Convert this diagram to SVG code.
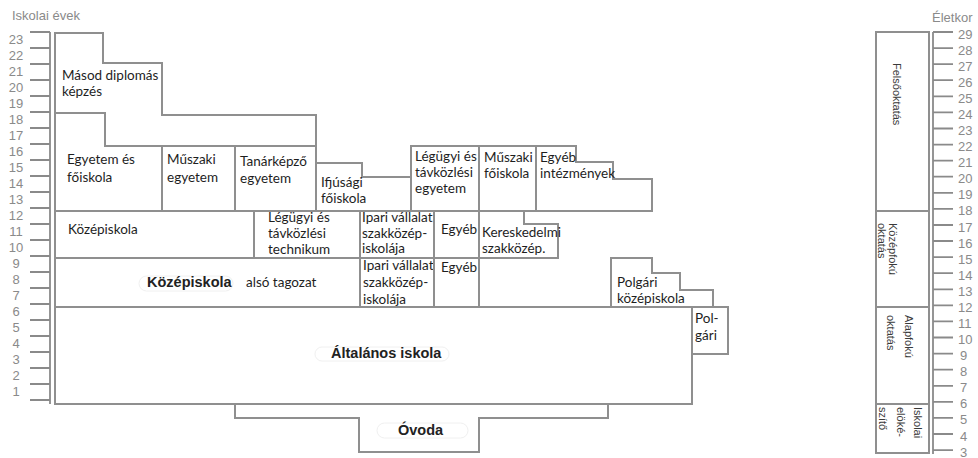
<svg xmlns="http://www.w3.org/2000/svg" width="978" height="458" viewBox="0 0 978 458">
<style>
.b{fill:#fff;stroke:#8f8f8f;stroke-width:2;stroke-linejoin:miter}
.t{font-family:Lato,"Liberation Sans",sans-serif;font-size:13.5px;fill:#1e1e1e}
.bd{font-family:"Liberation Sans",Arial,sans-serif;font-weight:bold;font-size:14.5px;fill:#222}
.r{font-family:"Liberation Sans",Arial,sans-serif;font-size:11px;fill:#3a3a3a}
.n{font-family:"Liberation Sans",Arial,sans-serif;font-size:13px;fill:#8a8a8a}
.tk{stroke:#8a8a8a;stroke-width:1.8}
.pill{fill:none;stroke:#f0f0f0;stroke-width:1}
</style>
<rect width="978" height="458" fill="#fff"/>

<g id="left-scale">
<text class="n" x="12" y="20">Iskolai évek</text>
<path class="tk" fill="none" d="M50,32V404 M30,32H50 M30,48H50 M30,64H50 M30,80H50 M30,96H50 M30,112H50 M30,128H50 M30,144H50 M30,160H50 M30,176H50 M30,192H50 M30,208H50 M30,224H50 M30,240H50 M30,256H50 M30,272H50 M30,288H50 M30,304H50 M30,320H50 M30,336H50 M30,352H50 M30,368H50 M30,384H50 M30,400H50"/>
<g class="n" text-anchor="middle">
<text x="16" y="43.5">23</text><text x="16" y="59.5">22</text><text x="16" y="75.5">21</text><text x="16" y="91.5">20</text><text x="16" y="107.5">19</text><text x="16" y="123.5">18</text><text x="16" y="139.5">17</text><text x="16" y="155.5">16</text><text x="16" y="171.5">15</text><text x="16" y="187.5">14</text><text x="16" y="203.5">13</text><text x="16" y="219.5">12</text><text x="16" y="235.5">11</text><text x="16" y="251.5">10</text><text x="16" y="267.5">9</text><text x="16" y="283.5">8</text><text x="16" y="299.5">7</text><text x="16" y="315.5">6</text><text x="16" y="331.5">5</text><text x="16" y="347.5">4</text><text x="16" y="363.5">3</text><text x="16" y="379.5">2</text><text x="16" y="395.5">1</text>
</g>
</g>

<g id="masod-diplomas">
<path class="b" d="M55,33H103V63H162V115H316V146H105V113H55Z"/>
<text class="t" x="62" y="80">Másod diplomás</text>
<text class="t" x="62" y="96">képzés</text>
</g>
<g id="egyetem-foiskola">
<path class="b" d="M55,113H105V146H162V211H55Z"/>
<text class="t" x="67" y="164">Egyetem és</text>
<text class="t" x="67" y="182">főiskola</text>
</g>
<g id="muszaki-egyetem">
<path class="b" d="M162,146H235V211H162Z"/>
<text class="t" x="167" y="164">Műszaki</text>
<text class="t" x="167" y="182">egyetem</text>
</g>
<g id="tanarkepzo-egyetem">
<path class="b" d="M235,146H316V211H235Z"/>
<text class="t" x="240" y="166">Tanárképző</text>
<text class="t" x="240" y="183">egyetem</text>
</g>
<g id="ifjusagi-foiskola">
<path class="b" d="M316,163H362V177H411V211H316Z"/>
<text class="t" x="321" y="187">Ifjúsági</text>
<text class="t" x="321" y="203">főiskola</text>
</g>
<g id="legugyi-egyetem">
<path class="b" d="M411,146H479V211H411Z"/>
<text class="t" x="415" y="161">Légügyi és</text>
<text class="t" x="415" y="177">távközlési</text>
<text class="t" x="415" y="193">egyetem</text>
</g>
<g id="muszaki-foiskola">
<path class="b" d="M479,146H536V211H479Z"/>
<text class="t" x="484" y="162">Műszaki</text>
<text class="t" x="484" y="178">főiskola</text>
</g>
<g id="egyeb-intezmenyek">
<path class="b" d="M536,146H576V162H613V179H652V211H536Z"/>
<text class="t" x="540" y="162">Egyéb</text>
<text class="t" x="540" y="178">intézmények</text>
</g>

<g id="kozepiskola">
<path class="b" d="M55,211H254V258H55Z"/>
<text class="t" x="68" y="234">Középiskola</text>
</g>
<g id="legugyi-technikum">
<path class="b" d="M254,211H360V258H254Z"/>
<text class="t" x="268" y="222">Légügyi és</text>
<text class="t" x="268" y="238">távközlési</text>
<text class="t" x="268" y="254">technikum</text>
</g>
<g id="ipari-szakkozep-felso">
<path class="b" d="M360,211H434V258H360Z"/>
<text class="t" x="362" y="222">Ipari vállalat</text>
<text class="t" x="362" y="237.5">szakközép-</text>
<text class="t" x="362" y="253">iskolája</text>
</g>
<g id="egyeb-felso">
<path class="b" d="M434,211H479V258H434Z"/>
<text class="t" x="441" y="234">Egyéb</text>
</g>
<g id="kereskedelmi-szakkozep">
<path class="b" d="M479,211H524V224H558V258H479Z"/>
<text class="t" x="482" y="237">Kereskedelmi</text>
<text class="t" x="482" y="253">szakközép.</text>
</g>

<g id="kozepiskola-also-tagozat">
<path class="b" d="M55,258H360V307H55Z"/>
<rect class="pill" x="139" y="276" width="94" height="15" rx="7.5"/>
<text class="bd" x="147" y="287">Középiskola</text>
<text class="t" x="246" y="287">alsó tagozat</text>
</g>
<g id="ipari-szakkozep-also">
<path class="b" d="M360,258H434V307H360Z"/>
<text class="t" x="363" y="270">Ipari vállalat</text>
<text class="t" x="363" y="287">szakközép-</text>
<text class="t" x="363" y="304">iskolája</text>
</g>
<g id="egyeb-also">
<path class="b" d="M434,258H479V307H434Z"/>
<text class="t" x="441" y="272">Egyéb</text>
</g>
<g id="polgari-kozepiskola">
<path class="b" d="M611,307V258H652V273H680V290H713V307Z"/>
<text class="t" x="617" y="287">Polgári</text>
<text class="t" x="617" y="303">középiskola</text>
</g>

<g id="ovoda">
<path class="b" d="M235,404V418H359V452H479V418H608V404Z"/>
<rect class="pill" x="377" y="423" width="91" height="15" rx="7.5"/>
<text class="bd" x="398" y="435">Óvoda</text>
</g>
<g id="altalanos-iskola">
<path class="b" d="M55,307H692V404H55Z"/>
<rect class="pill" x="315" y="347" width="134" height="14" rx="7"/>
<text class="bd" x="331" y="358">Általános iskola</text>
</g>
<g id="polgari">
<path class="b" d="M692,307H728V354H692Z"/>
<text class="t" x="695" y="323">Pol-</text>
<text class="t" x="695" y="340">gári</text>
</g>

<g id="felsooktatas">
<rect class="b" x="876" y="32" width="53" height="179"/>
<text class="r" transform="translate(893,63) rotate(90)">Felsőoktatás</text>
</g>
<g id="kozepfoku-oktatas">
<rect class="b" x="876" y="211" width="53" height="96"/>
<text class="r" transform="translate(889,223) rotate(90)">Középfokú</text>
<text class="r" transform="translate(878,223) rotate(90)">oktatás</text>
</g>
<g id="alapfoku-oktatas">
<rect class="b" x="876" y="307" width="53" height="97"/>
<text class="r" transform="translate(905,315) rotate(90)">Alapfokú</text>
<text class="r" transform="translate(887,315) rotate(90)">oktatás</text>
</g>
<g id="iskolai-elokeszito">
<rect class="b" x="876" y="404" width="53" height="49"/>
<text class="r" transform="translate(914,407) rotate(90)">Iskolai</text>
<text class="r" transform="translate(897,407) rotate(90)">elöké-</text>
<text class="r" transform="translate(879,407) rotate(90)">szítő</text>
</g>

<g id="right-scale">
<text class="n" x="932" y="22" font-size="11.5">Életkor</text>
<path class="tk" fill="none" d="M933,32V454 M933,32H953 M933,48.1H953 M933,64.2H953 M933,80.2H953 M933,96.3H953 M933,112.4H953 M933,128.5H953 M933,144.6H953 M933,160.6H953 M933,176.7H953 M933,192.8H953 M933,208.9H953 M933,225H953 M933,241H953 M933,257.1H953 M933,273.2H953 M933,289.3H953 M933,305.4H953 M933,321.4H953 M933,337.5H953 M933,353.6H953 M933,369.7H953 M933,385.8H953 M933,401.8H953 M933,417.9H953 M933,434H953 M933,450.1H953"/>
<g class="n">
<text x="958" y="38.5">29</text><text x="958" y="54.6">28</text><text x="958" y="70.7">27</text><text x="958" y="86.7">26</text><text x="958" y="102.8">25</text><text x="958" y="118.9">24</text><text x="958" y="135">23</text><text x="958" y="151.1">22</text><text x="958" y="167.1">21</text><text x="958" y="183.2">20</text><text x="958" y="199.3">19</text><text x="958" y="215.4">18</text><text x="958" y="231.5">17</text><text x="958" y="247.5">16</text><text x="958" y="263.6">15</text><text x="958" y="279.7">14</text><text x="958" y="295.8">13</text><text x="958" y="311.9">12</text><text x="958" y="327.9">11</text><text x="958" y="344">10</text><text x="960" y="360.1">9</text><text x="960" y="376.2">8</text><text x="960" y="392.3">7</text><text x="960" y="408.3">6</text><text x="960" y="424.4">5</text><text x="960" y="440.5">4</text><text x="960" y="456.6">3</text>
</g>
</g>
</svg>
